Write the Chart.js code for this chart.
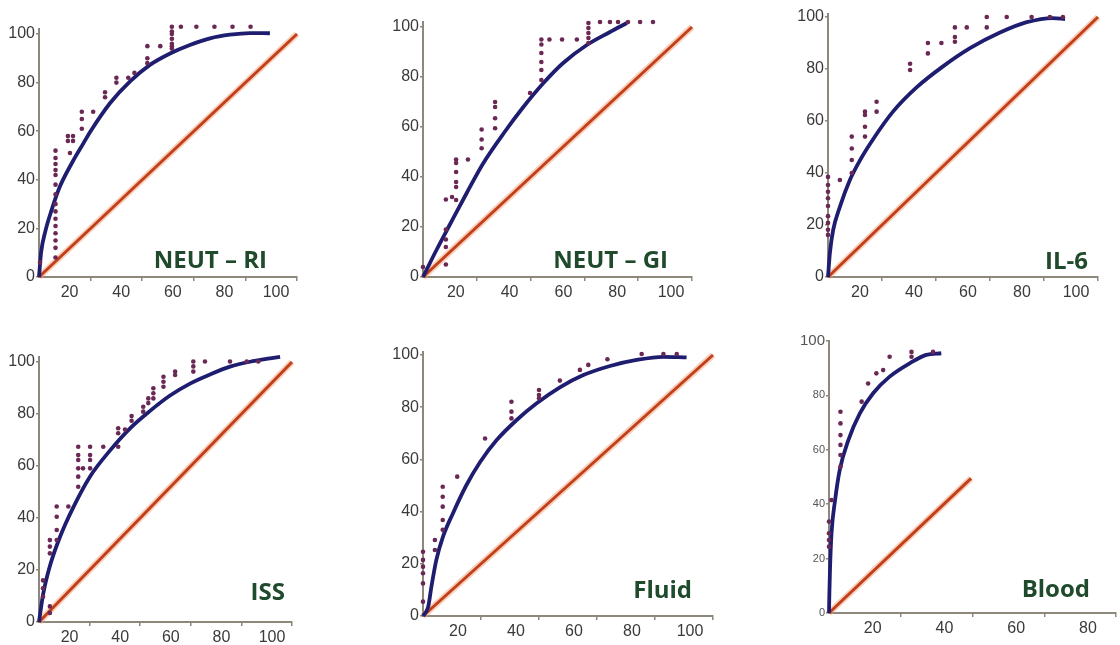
<!DOCTYPE html>
<html>
<head>
<meta charset="utf-8">
<script src="https://cdn.jsdelivr.net/npm/chart.js@4.4.1/dist/chart.umd.min.js"></script>
<style>
  html, body { margin: 0; padding: 0; background: #fff; overflow: hidden; }
  body { width: 1120px; height: 645px; position: relative; }
  canvas { position: absolute; }
</style>
</head>
<body>
<canvas id="c1"></canvas>
<canvas id="c2"></canvas>
<canvas id="c3"></canvas>
<canvas id="c4"></canvas>
<canvas id="c5"></canvas>
<canvas id="c6"></canvas>
<script>
// tick labels
const yTicks = [0, 20, 40, 60, 80, 100];
const xTicks = [20, 40, 60, 80, 100];
const bloodXTicks = [20, 40, 60, 80];

// reference diagonals
const diagFull = [[0, 0], [100, 100]];
const diagBlood = [[0, 0], [39.6, 49.5]];

// NEUT - RI
const neutRiDots = [[0.4,6],[6.4,52],[6.4,49],[6.4,46.5],[6.4,44],[6.4,42],[6.4,38],[6.4,34],[6.4,30],[6.4,27],[6.4,24],[6.4,21],[6.4,18],[6.4,15],[6.4,12],[6.4,8],
  [11.2,58],[13.2,58],[11.2,56],[13.2,56],[12,51],[16.6,68],[16.6,65],[16.6,61],[21,68],[25.6,76],[25.6,74],[30,82],[30,80],[34.6,82],[37,84],
  [42,95],[42,90],[42,88],[47,95],[51.5,103],[51.5,101],[51.5,100],[51.5,98],[51.5,96],[51.5,95],[51.5,94],[55,103],[61,103],[68,103],[75,103],[82,103]];
const neutRiCurve = [[0,0],[0.8,10],[2.5,19],[4.9,27.6],[8.1,37.2],[12.7,46.8],[17.2,55],[20,60],[27.5,71.5],[35.3,80.5],[43,87.3],[50.8,92],[58.5,95.5],[66.3,98.2],[74,99.7],[81.8,100.4],[89.5,100.3]];

// NEUT - GI
const neutGiDots = [[0,4],[8.5,5],[8.5,12],[8.5,15],[8.5,19],[8.5,31],[10.8,32],[12.3,30.8],[12.3,36],[12.3,38],[12.3,42],[12.3,45.6],[12.3,47],
  [16.7,47],[21.8,59],[21.8,55],[21.8,51.5],[26.8,70],[26.8,68],[26.8,63.5],[26.8,59.5],[39.8,73.6],
  [44,95],[44,93],[44,89.6],[44,86],[44,82.8],[44,78.8],[47,95],[51.7,95],[57.2,95],
  [61.5,101.6],[61.5,99.6],[61.5,97.6],[61.5,95.6],[61.5,93.6],[65.8,102],[69.5,102],[72.5,102],[76.2,102],[80.7,102],[85.5,102]];
const neutGiCurve = [[0,0],[5.1,11],[10,21],[16.2,33.5],[22.4,45.5],[30,57.5],[37.3,68],[44.7,77.5],[52,85.5],[60.9,92.8],[69.5,98],[75.8,101.6]];

// IL-6
const il6Dots = [[0,38.5],[0,35.4],[0,32.8],[0,30.3],[0,27.3],[0,23.4],[0,20.8],[0,18.2],[0,16.2],[4.4,37.3],
  [8.8,54],[8.8,49.4],[8.8,45],[8.8,40],[13.7,63.6],[13.7,62.3],[13.7,57.8],[13.7,54],[18,67.4],[18,63.6],
  [30.4,82],[30.4,79.6],[37,90],[37,86],[42,90],[47,96],[47,92.3],[47,90.5],[51.4,96],[58.8,100],[58.8,96],[66.2,100],[75.4,100],[82.2,100],[87,100]];
const il6Curve = [[0,0],[0.7,9.2],[1.9,18],[4.4,27],[8.1,37.3],[11.9,45],[16.7,53],[24,63.5],[32.9,73],[42.6,81],[52.6,88],[63.7,94],[73.6,98],[83.3,99.6],[87.8,99.2]];

// ISS
const issDots = [[1.6,9.7],[1.6,13],[1.6,16],[4.3,3.5],[4.3,6],[4.3,26.4],[4.3,29],[4.3,31.5],[7,44.4],[7,40.5],[7,35.4],[7,31.5],[11.6,44.4],
  [15.5,67.4],[15.5,64.2],[15.5,62.3],[15.5,59.1],[15.5,55.9],[15.5,52],[17.4,59.1],[20.2,59.1],[20.2,67.4],[20.2,64.2],[20.2,62.3],[25.4,67.4],
  [31.3,74.5],[31.3,72.6],[31.3,67.4],[34,74],[36.6,79.2],[36.6,77.4],[41.2,82.8],[41.2,80.9],[43.2,86],[43.2,84.2],[45.2,89.9],[45.2,88],[45.2,86],
  [49.2,94.3],[49.2,92.4],[49.2,90.5],[53.8,96.3],[53.8,95],[61,100.2],[61,98.3],[61,96.3],[65.6,100.2],[75.5,100.2],[82.1,100.2],[86.7,100.2]];
const issCurve = [[0,0],[1.6,10.5],[4.3,21.5],[8.2,32.5],[13.5,44],[20.2,56],[28.1,66],[36,74.5],[43.9,81.2],[51.8,87.1],[59.7,91.7],[67.6,95.2],[75.5,98.2],[83.4,100.1],[91.3,101.4],[95.3,102]];

// Fluid
const fluidDots = [[0,24.6],[0,21.5],[0,18.9],[0,16.4],[0,12.5],[0,5.5],[4.1,29.1],[4.1,25.3],[6.8,49.5],[6.8,45.7],[6.8,41.9],[6.8,36.8],[6.8,33],
  [11.8,53.4],[21.4,68],[30.5,82.1],[30.5,78.3],[30.5,75.7],[40,86.6],[40,84.7],[40,83.4],[47.2,90.2],[54.1,94.3],[57,96.2],[63.6,98.4],[75.4,100.4],[82.9,100.4],[87.5,100.4]];
const fluidCurve = [[0,0],[1.8,3.6],[2.9,11.2],[4.6,21.5],[6.9,30.4],[10.3,39.3],[14.9,50],[19.7,59],[25.4,67.4],[32.3,75.1],[39.2,81.5],[47.2,87.6],[55.3,92.3],[64.5,95.8],[73.7,98.1],[82.9,99.3],[90.9,99.1]];

// Blood
const bloodDots = [[0,33.6],[0,29.3],[0,26.8],[0,24.4],[0.7,41.5],[3.2,74],[3.2,69.7],[3.2,65.4],[3.2,61.8],[3.2,58.1],[3.2,53.8],
  [9.1,77.7],[10.9,84.4],[13.2,88.1],[15.1,89.3],[16.9,94.2],[23,96],[23,94.2],[29,96]];
const bloodCurve = [[0,0],[0.1,7.1],[0.3,17],[0.7,29.3],[1.7,41.5],[3,52.6],[5.4,63.6],[8.6,73.4],[12.3,80.8],[16.9,86.9],[22.5,91.8],[27.1,94.9],[31.3,95.5]];

// panel placement on the page (chart-area origin and pixels per unit)
const panels = [
  { id: 'c1', name: 'NEUT \u2013 RI', dots: neutRiDots, curve: neutRiCurve, diag: diagFull, xt: xTicks, left: 39, bottom: 277, sx: 2.58, sy: 2.43, xMax: 100, yMax: 102, off: -21, tx: 267, ty: 268, pr: 8 },
  { id: 'c2', name: 'NEUT \u2013 GI', dots: neutGiDots, curve: neutGiCurve, diag: diagFull, xt: xTicks, left: 423, bottom: 277, sx: 2.69, sy: 2.5, xMax: 100, yMax: 102, off: -21, tx: 668, ty: 268, pr: 8 },
  { id: 'c3', name: 'IL-6', dots: il6Dots, curve: il6Curve, diag: diagFull, xt: xTicks, left: 828, bottom: 277, sx: 2.7, sy: 2.6, xMax: 100, yMax: 101, off: -22, tx: 1088, ty: 269, pr: 8 },
  { id: 'c4', name: 'ISS', dots: issDots, curve: issCurve, diag: diagFull, xt: xTicks, left: 39, bottom: 622, sx: 2.53, sy: 2.6, xMax: 100, yMax: 102, off: -20, tx: 285, ty: 600, pr: 8 },
  { id: 'c5', name: 'Fluid', dots: fluidDots, curve: fluidCurve, diag: diagFull, xt: xTicks, left: 423, bottom: 616, sx: 2.9, sy: 2.61, xMax: 100, yMax: 101, off: -23, tx: 692, ty: 598, pr: 8 },
  { id: 'c6', name: 'Blood', dots: bloodDots, curve: bloodCurve, diag: diagBlood, xt: bloodXTicks, left: 829, bottom: 613, sx: 3.6, sy: 2.72, xMax: 80, yMax: 100, off: -28, tx: 1090, ty: 597, pr: 3, small: true }
];

const toXY = arr => arr.map(([x, y]) => ({ x, y }));
const axisColor = '#8e877c';
const yw = 39, xh = 28, pt = 8;

panels.forEach(p => {
  const chartW = p.xMax * p.sx;
  const chartH = p.yMax * p.sy;
  const canvasLeft = p.left - yw;
  const canvasTop = Math.round(p.bottom - chartH - pt);
  const W = Math.round(yw + chartW + p.pr);
  const H = p.bottom - canvasTop + xh;
  const el = document.getElementById(p.id);
  el.width = W; el.height = H;
  el.style.left = canvasLeft + 'px';
  el.style.top = canvasTop + 'px';
  el.style.width = W + 'px';
  el.style.height = H + 'px';

  const titlePlugin = {
    id: 'panelTitle',
    afterDraw(chart) {
      const ctx = chart.ctx;
      ctx.save();
      ctx.font = 'bold 24px "Open Sans"';
      ctx.fillStyle = '#1f4a2b';
      ctx.textAlign = 'right';
      ctx.textBaseline = 'alphabetic';
      ctx.fillText(p.name, p.tx - canvasLeft, p.ty - canvasTop);
      ctx.restore();
    }
  };

  new Chart(el, {
    type: 'scatter',
    data: {
      datasets: [
        { data: toXY(p.dots), pointRadius: 2.3, pointBackgroundColor: '#6a2854', pointBorderWidth: 0, showLine: false, clip: false },
        { data: toXY(p.curve), showLine: true, borderColor: '#1e1d70', borderWidth: 3.8, pointRadius: 0, cubicInterpolationMode: 'monotone', clip: false },
        { data: toXY(p.diag), showLine: true, borderColor: '#c23f1c', borderWidth: 3, pointRadius: 0, clip: false },
        { data: toXY(p.diag), showLine: true, borderColor: 'rgba(240,150,105,0.45)', borderWidth: 6.5, pointRadius: 0, clip: false }
      ]
    },
    options: {
      responsive: false,
      devicePixelRatio: 1,
      animation: false,
      layout: { padding: { top: H - xh - chartH, right: W - yw - chartW, left: 0, bottom: 0 } },
      plugins: { legend: { display: false }, tooltip: { enabled: false } },
      scales: {
        x: {
          type: 'linear', min: 0, max: p.xMax,
          afterBuildTicks: s => { s.ticks = p.xt.map(v => ({ value: v })); },
          afterFit: s => { s.height = xh; s.paddingLeft = 0; s.paddingRight = 0; },
          ticks: { autoSkip: false, maxRotation: 0, labelOffset: p.off, padding: 2, color: '#3a3a3a', font: { family: 'Liberation Sans', size: 16 } },
          grid: { drawOnChartArea: false, tickLength: 4, color: axisColor, lineWidth: 1.5 },
          border: { display: true, color: axisColor, width: 2 }
        },
        y: {
          type: 'linear', min: 0, max: p.yMax,
          afterBuildTicks: s => { s.ticks = yTicks.map(v => ({ value: v })); },
          afterFit: s => { s.width = yw; s.paddingTop = 0; s.paddingBottom = 0; },
          ticks: {
            autoSkip: false, padding: 1,
            color: p.small ? '#555' : '#3a3a3a',
            font: ctx => ({ family: 'Liberation Sans', size: p.small ? (ctx.tick && ctx.tick.value === 100 ? 15 : 11) : 16 })
          },
          grid: { drawOnChartArea: false, tickLength: 3, color: axisColor, lineWidth: 1.5 },
          border: { display: true, color: axisColor, width: 2 }
        }
      }
    },
    plugins: [titlePlugin]
  });
});
</script>
</body>
</html>
